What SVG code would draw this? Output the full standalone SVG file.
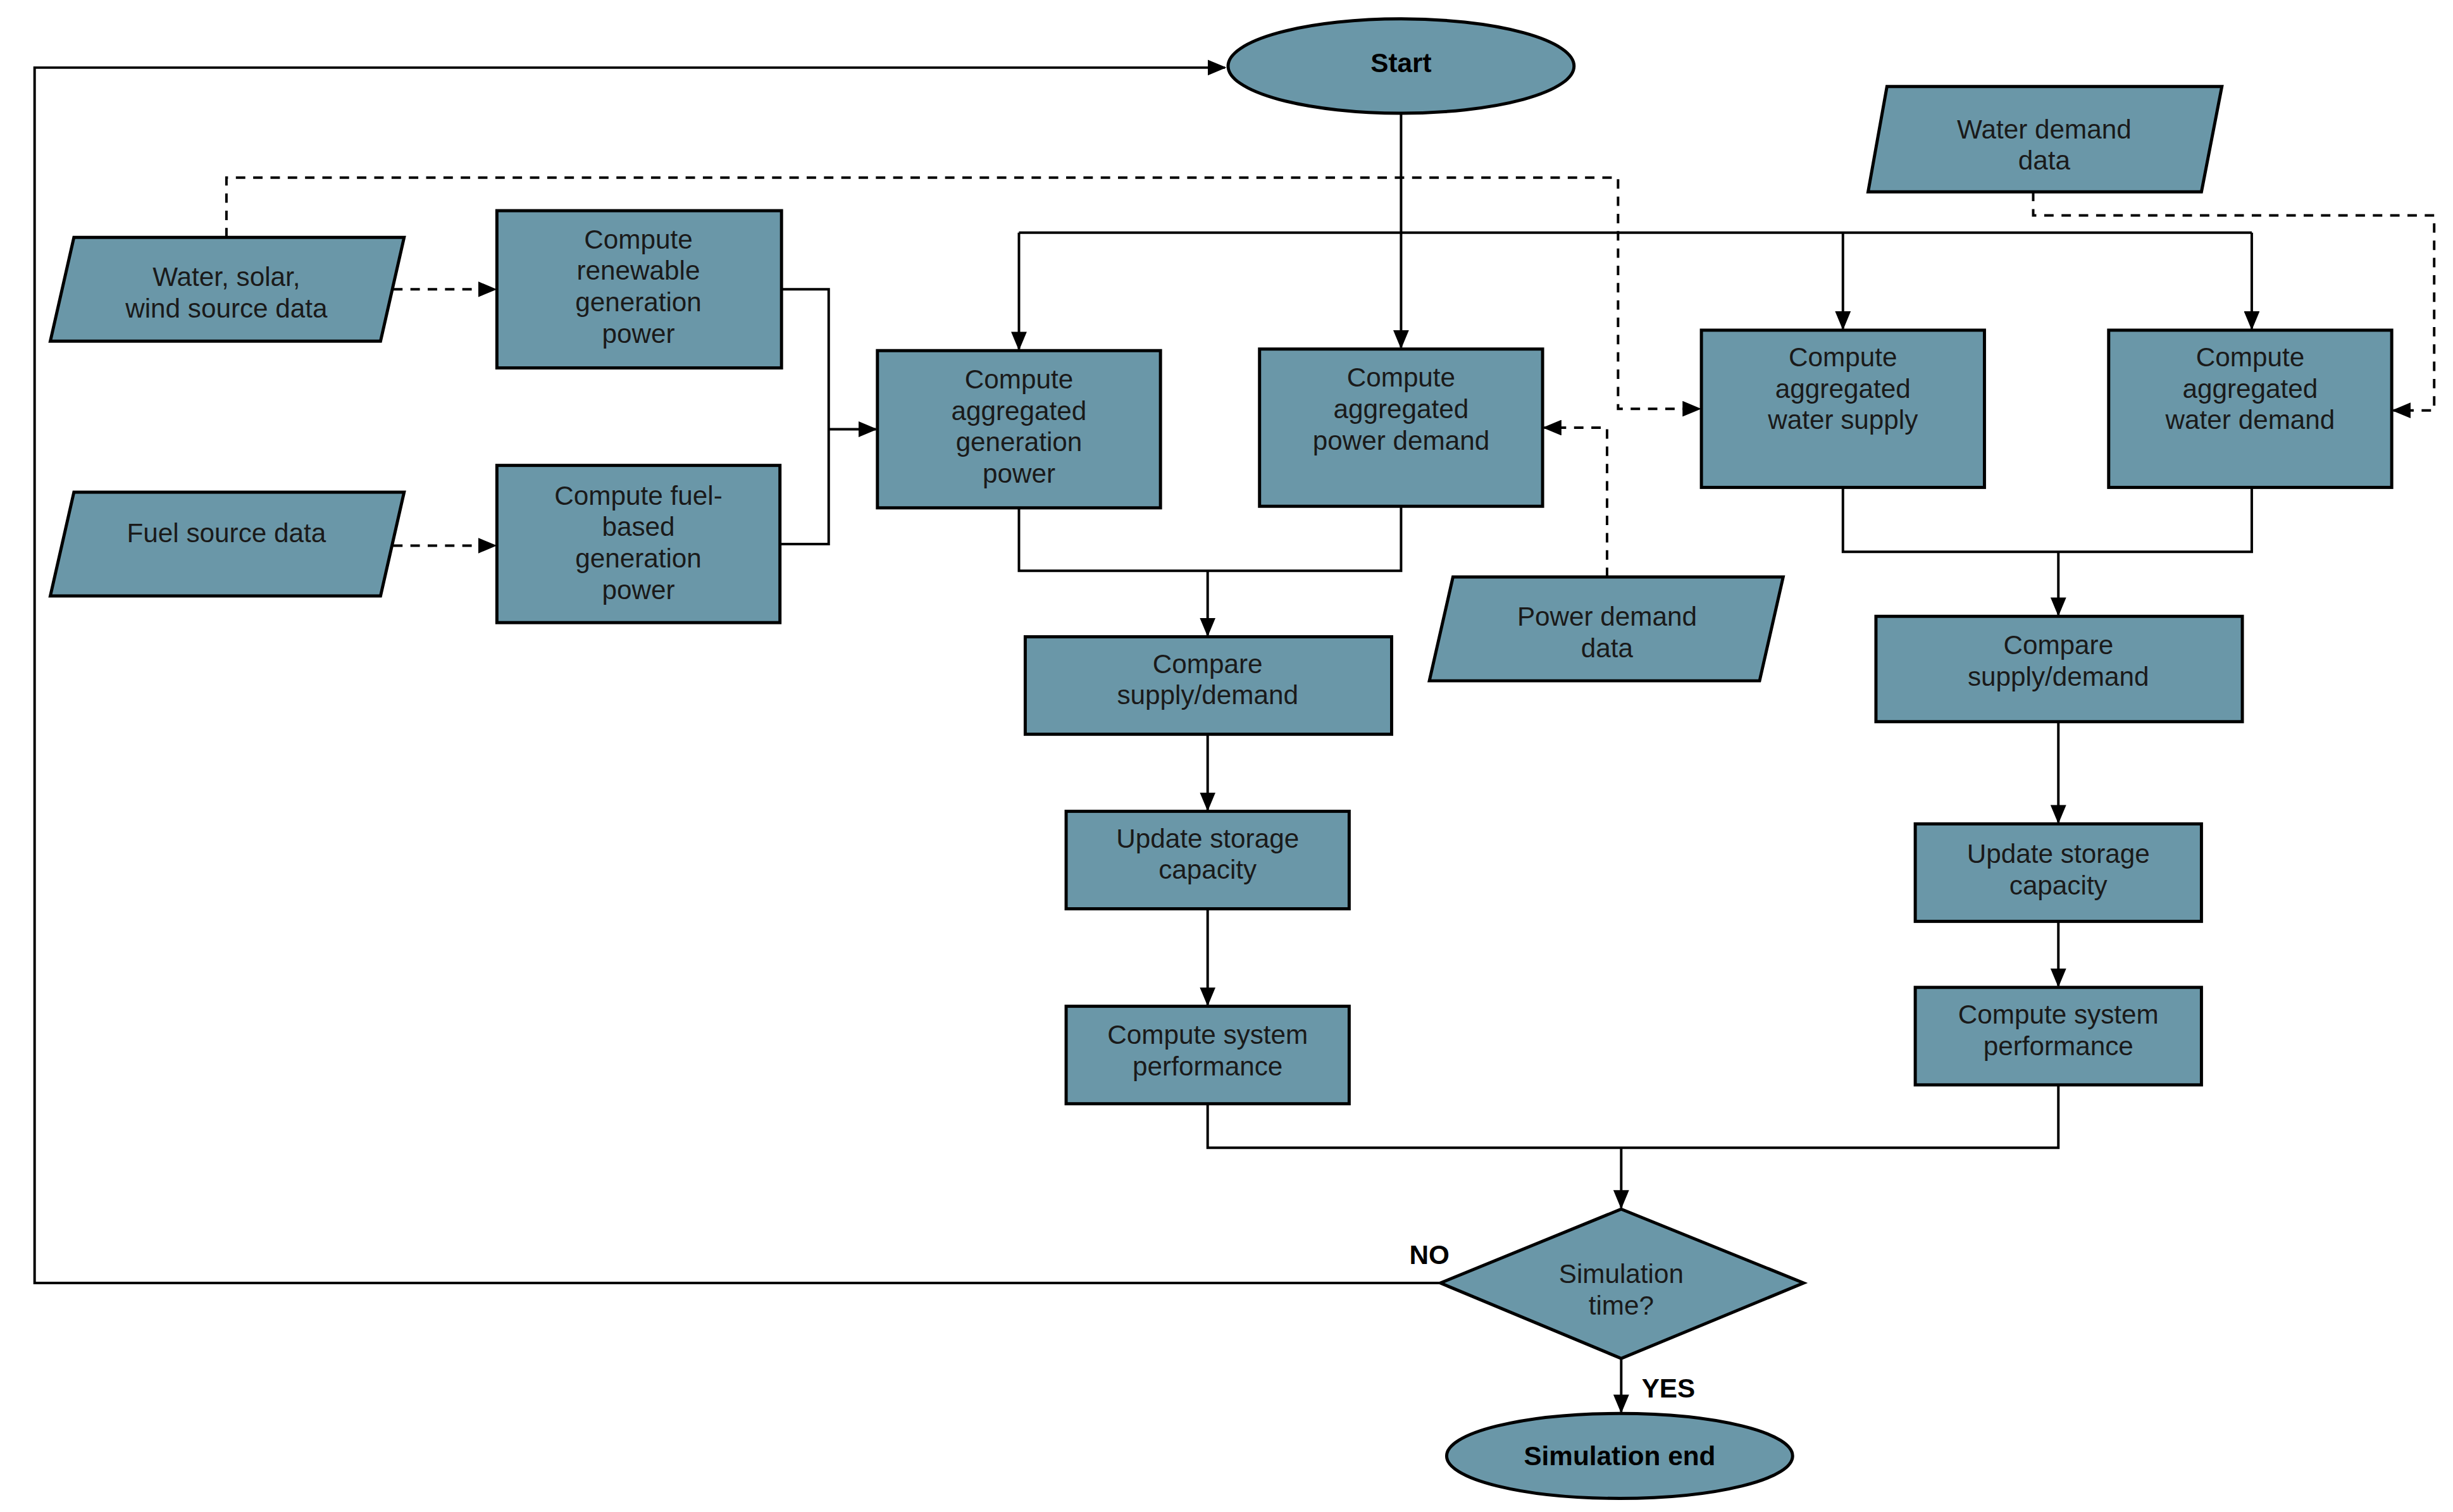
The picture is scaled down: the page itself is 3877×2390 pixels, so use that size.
<svg xmlns="http://www.w3.org/2000/svg" width="3877" height="2390" viewBox="0 0 3877 2390">
<style>
.n{fill:#6a97a8;stroke:#000;stroke-width:2}
.t{font-family:"Liberation Sans",Arial,sans-serif;font-size:17px;fill:#1a1a1a;text-anchor:middle}
.b{font-weight:bold;fill:#000}
.c{fill:none;stroke:#000;stroke-width:1.6}
.d{stroke-dasharray:6,5}
</style>
<defs>
<marker id="a" markerUnits="userSpaceOnUse" markerWidth="12" markerHeight="10" refX="11" refY="5" orient="auto"><path d="M0,0 L12,5 L0,10 Z" fill="#000"/></marker>
</defs>
<rect width="3877" height="2390" fill="#fff"/>
<g transform="scale(2.4853)">
<g id="connectors">
<path class="c" d="M916,816 H22 V43 H779" marker-end="url(#a)"/>
<path class="c" d="M891,72 V221" marker-end="url(#a)"/>
<path class="c" d="M648,148 H1432"/>
<path class="c" d="M648,148 V222" marker-end="url(#a)"/>
<path class="c" d="M1172,148 V209" marker-end="url(#a)"/>
<path class="c" d="M1432,148 V209" marker-end="url(#a)"/>
<path class="c d" d="M144,151 V113 H1029 V260 H1081" marker-end="url(#a)"/>
<path class="c d" d="M250,184 H315" marker-end="url(#a)"/>
<path class="c d" d="M250,347 H315" marker-end="url(#a)"/>
<path class="c" d="M497,184 H527 V346 H496"/>
<path class="c" d="M527,273 H557" marker-end="url(#a)"/>
<path class="c" d="M648,323 V363 H891 V322"/>
<path class="c" d="M768,363 V404" marker-end="url(#a)"/>
<path class="c d" d="M1022,367 V272 H982" marker-end="url(#a)"/>
<path class="c d" d="M1293,122 V137 H1548 V261 H1522" marker-end="url(#a)"/>
<path class="c" d="M1172,310 V351 H1432 V310"/>
<path class="c" d="M1309,351 V391" marker-end="url(#a)"/>
<path class="c" d="M768,467 V515" marker-end="url(#a)"/>
<path class="c" d="M768,578 V639" marker-end="url(#a)"/>
<path class="c" d="M1309,459 V523" marker-end="url(#a)"/>
<path class="c" d="M1309,586 V627" marker-end="url(#a)"/>
<path class="c" d="M768,702 V730 H1309 V690"/>
<path class="c" d="M1031,730 V768" marker-end="url(#a)"/>
<path class="c" d="M1031,864 V898" marker-end="url(#a)"/>
</g>
<g id="start"><ellipse class="n" cx="891" cy="42" rx="110" ry="30"/><text class="t b" x="891" y="46">Start</text></g>
<g id="waterdemanddata"><polygon class="n" points="1200,55 1413,55 1400,122 1188,122"/><text class="t" x="1300" y="88">Water demand</text><text class="t" x="1300" y="108">data</text></g>
<g id="wsw"><polygon class="n" points="47,151 257,151 242,217 32,217"/><text class="t" x="144" y="182">Water, solar,</text><text class="t" x="144" y="202">wind source data</text></g>
<g id="fuel"><polygon class="n" points="47,313 257,313 242,379 32,379"/><text class="t" x="144" y="345">Fuel source data</text></g>
<g id="renew"><rect class="n" x="316" y="134" width="181" height="100"/><text class="t" x="406" y="158">Compute</text><text class="t" x="406" y="178">renewable</text><text class="t" x="406" y="198">generation</text><text class="t" x="406" y="218">power</text></g>
<g id="fuelgen"><rect class="n" x="316" y="296" width="180" height="100"/><text class="t" x="406" y="321">Compute fuel-</text><text class="t" x="406" y="341">based</text><text class="t" x="406" y="361">generation</text><text class="t" x="406" y="381">power</text></g>
<g id="agggen"><rect class="n" x="558" y="223" width="180" height="100"/><text class="t" x="648" y="247">Compute</text><text class="t" x="648" y="267">aggregated</text><text class="t" x="648" y="287">generation</text><text class="t" x="648" y="307">power</text></g>
<g id="aggpd"><rect class="n" x="801" y="222" width="180" height="100"/><text class="t" x="891" y="246">Compute</text><text class="t" x="891" y="266">aggregated</text><text class="t" x="891" y="286">power demand</text></g>
<g id="aggws"><rect class="n" x="1082" y="210" width="180" height="100"/><text class="t" x="1172" y="233">Compute</text><text class="t" x="1172" y="253">aggregated</text><text class="t" x="1172" y="273">water supply</text></g>
<g id="aggwd"><rect class="n" x="1341" y="210" width="180" height="100"/><text class="t" x="1431" y="233">Compute</text><text class="t" x="1431" y="253">aggregated</text><text class="t" x="1431" y="273">water demand</text></g>
<g id="pdd"><polygon class="n" points="924,367 1134,367 1119,433 909,433"/><text class="t" x="1022" y="398">Power demand</text><text class="t" x="1022" y="418">data</text></g>
<g id="cmpL"><rect class="n" x="652" y="405" width="233" height="62"/><text class="t" x="768" y="428">Compare</text><text class="t" x="768" y="448">supply/demand</text></g>
<g id="updL"><rect class="n" x="678" y="516" width="180" height="62"/><text class="t" x="768" y="539">Update storage</text><text class="t" x="768" y="559">capacity</text></g>
<g id="perfL"><rect class="n" x="678" y="640" width="180" height="62"/><text class="t" x="768" y="664">Compute system</text><text class="t" x="768" y="684">performance</text></g>
<g id="cmpR"><rect class="n" x="1193" y="392" width="233" height="67"/><text class="t" x="1309" y="416">Compare</text><text class="t" x="1309" y="436">supply/demand</text></g>
<g id="updR"><rect class="n" x="1218" y="524" width="182" height="62"/><text class="t" x="1309" y="549">Update storage</text><text class="t" x="1309" y="569">capacity</text></g>
<g id="perfR"><rect class="n" x="1218" y="628" width="182" height="62"/><text class="t" x="1309" y="651">Compute system</text><text class="t" x="1309" y="671">performance</text></g>
<g id="decision"><polygon class="n" points="1031,769 1147,816 1031,864 916,816"/><text class="t" x="1031" y="816">Simulation</text><text class="t" x="1031" y="836">time?</text></g>
<g id="end"><ellipse class="n" cx="1030" cy="926" rx="110" ry="27"/><text class="t b" x="1030" y="932">Simulation end</text></g>
<text class="t b" x="909" y="804" font-size="15">NO</text>
<text class="t b" x="1061" y="889" font-size="15">YES</text>
</g>
</svg>
